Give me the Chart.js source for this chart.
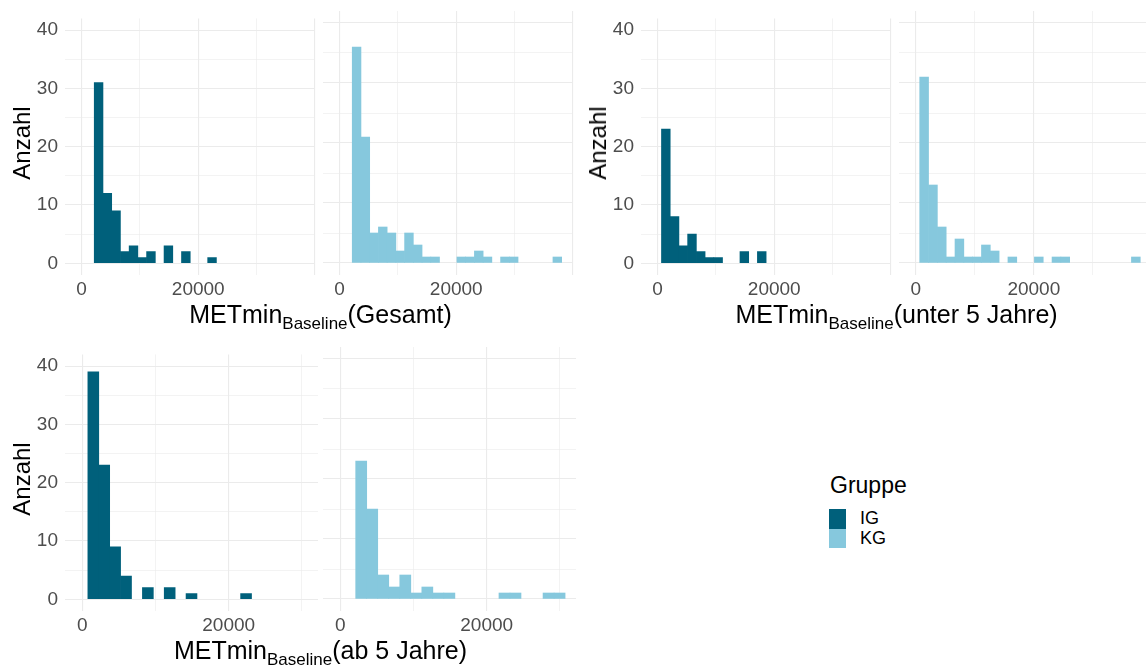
<!DOCTYPE html>
<html>
<head>
<meta charset="utf-8">
<script src="https://cdn.jsdelivr.net/npm/chart.js@4.4.1/dist/chart.umd.min.js"></script>
<style>
  html, body { margin: 0; padding: 0; background: #fff; overflow: hidden; }
  body { position: relative; width: 1146px; height: 668px; font-family: 'Liberation Sans', Arial, sans-serif; }
  canvas { position: absolute; }
  .xtitle { position: absolute; text-align: center; font-size: 25px; line-height: 28px; color: #000; white-space: nowrap; }
  .xtitle span { font-size: 17px; vertical-align: -6px; }
  .ytitle { position: absolute; font-size: 24px; line-height: 24px; color: #000; white-space: nowrap;
            transform: translate(-50%, -50%) rotate(-90deg); }
  .legend { position: absolute; left: 829px; top: 474px; color: #000; }
  .legend .head { font-size: 23px; line-height: 23px; margin-left: 1px; }
  .legend .row { position: relative; height: 19.5px; }
  .legend .key { position: absolute; left: 0; top: 0; width: 17px; height: 19.5px; }
  .legend .lab { position: absolute; left: 31px; top: 0; font-size: 18px; line-height: 19.5px; }
</style>
</head>
<body>
<script>
// Anzahl pro Klasse (Histogramm), je Gruppe und Teilstichprobe
var groups = ['IG', 'KG'];

var binStartGesamt = 2180;
var binWidthGesamt = 1495;
var igGesamt = [31, 12, 9, 2, 3, 1, 2, 0, 3, 0, 2, 0, 0, 1];
var kgGesamt = [36, 21, 5, 6, 5, 2, 5, 3, 1, 1, 0, 0, 1, 1, 2, 1, 0, 1, 1, 0, 0, 0, 0, 1];

var binStartUnter5 = 679;
var binWidthUnter5 = 1494;
var igUnter5 = [23, 8, 3, 5, 2, 1, 1, 0, 0, 2, 0, 2];
var kgUnter5 = [31, 13, 6, 1, 4, 1, 1, 3, 2, 0, 1, 0, 0, 1, 0, 1, 1, 0, 0, 0, 0, 0, 0, 0, 1];

var binStartIgAb5 = 772;
var binWidthIgAb5 = 1490;
var igAb5 = [39, 23, 9, 4, 0, 2, 0, 2, 0, 1, 0, 0, 0, 0, 1];
var binStartKgAb5 = 2115;
var binWidthKgAb5 = 1505;
var kgAb5 = [23, 15, 4, 2, 4, 1, 2, 1, 1, 0, 0, 0, 0, 1, 1, 0, 0, 1, 1];

// Gitterlinien und beschriftete Ticks
var xBreaks = [0, 10000, 20000, 30000, 40000];
var xTickLabels = [0, 20000];
var yBreaks = [0, 5, 10, 15, 20, 25, 30, 35, 40];
var yTickLabels = [0, 10, 20, 30, 40];
var xTitles = ['Gesamt', 'unter 5 Jahre', 'ab 5 Jahre'];

var colors = { IG: '#00607b', KG: '#86c8dd' };
var fontFamily = "'Liberation Sans', Arial, sans-serif";

// Teilflächen: links IG mit y-Achse, rechts KG
var panels = [
  { counts: igGesamt, start: binStartGesamt, width: binWidthGesamt, group: 'IG', left: 0,   top: 0,   w: 318, axisW: 65, xMin: -2830, xMax: 40000 },
  { counts: kgGesamt, start: binStartGesamt, width: binWidthGesamt, group: 'KG', left: 323, top: 0,   w: 253, axisW: 0,  xMin: -2830, xMax: 40000 },
  { counts: igUnter5, start: binStartUnter5, width: binWidthUnter5, group: 'IG', left: 576, top: 0,   w: 318, axisW: 65, xMin: -2830, xMax: 40000 },
  { counts: kgUnter5, start: binStartUnter5, width: binWidthUnter5, group: 'KG', left: 899, top: 0,   w: 247, axisW: 0,  xMin: -2830, xMax: 39000 },
  { counts: igAb5,    start: binStartIgAb5,  width: binWidthIgAb5,  group: 'IG', left: 0,   top: 336, w: 318, axisW: 65, xMin: -2350, xMax: 32200 },
  { counts: kgAb5,    start: binStartKgAb5,  width: binWidthKgAb5,  group: 'KG', left: 323, top: 336, w: 253, axisW: 0,  xMin: -2350, xMax: 32200 }
];

var gridColor = '#ebebeb';

function setTicks(list) {
  return function (scale) {
    scale.ticks = list.filter(function (v) { return v >= scale.min && v <= scale.max; })
                      .map(function (v) { return { value: v }; });
  };
}

function makePanel(p) {
  var cv = document.createElement('canvas');
  cv.width = p.w;
  cv.height = 305;
  cv.style.left = p.left + 'px';
  cv.style.top = p.top + 'px';
  cv.style.width = p.w + 'px';
  cv.style.height = '305px';
  document.body.appendChild(cv);

  var bars = p.counts.map(function (c, i) {
    return { x: p.start + (i + 0.5) * p.width, y: c };
  });

  new Chart(cv.getContext('2d'), {
    type: 'bar',
    data: {
      datasets: [{
        label: p.group,
        data: bars,
        backgroundColor: colors[p.group],
        borderWidth: 0,
        barPercentage: 1,
        categoryPercentage: 1,
        grouped: false,
        // leere Klassen sollen keine Linie hinterlassen
        inflateAmount: function (ctx) { return ctx.raw && ctx.raw.y > 0 ? 0.33 : 0; }
      }]
    },
    options: {
      responsive: false,
      animation: false,
      layout: { padding: { top: 11, left: 0, right: 0, bottom: 0 } },
      plugins: { legend: { display: false }, tooltip: { enabled: false } },
      scales: {
        x: {
          type: 'linear',
          min: p.xMin,
          max: p.xMax,
          offset: false,
          border: { display: false },
          grid: {
            offset: false,
            drawTicks: false,
            color: gridColor,
            lineWidth: function (ctx) { return ctx.tick && ctx.tick.value % 20000 === 0 ? 1.1 : 0.6; }
          },
          ticks: {
            autoSkip: false,
            maxRotation: 0,
            padding: 3,
            color: '#4d4d4d',
            font: { size: 19, family: fontFamily },
            callback: function (v) { return xTickLabels.indexOf(v) >= 0 ? String(v) : ''; }
          },
          afterBuildTicks: setTicks(xBreaks),
          afterFit: function (scale) { scale.height = 30; }
        },
        y: {
          min: -2,
          max: 42,
          border: { display: false },
          grid: {
            drawTicks: false,
            color: gridColor,
            lineWidth: function (ctx) { return ctx.tick && ctx.tick.value % 10 === 0 ? 1.1 : 0.6; }
          },
          ticks: {
            display: p.axisW > 0,
            autoSkip: false,
            padding: 7,
            color: '#4d4d4d',
            font: { size: 19, family: fontFamily },
            callback: function (v) { return yTickLabels.indexOf(v) >= 0 ? String(v) : ''; }
          },
          afterBuildTicks: setTicks(yBreaks),
          afterFit: function (scale) { scale.width = p.axisW; }
        }
      }
    }
  });
}

panels.forEach(makePanel);

// Achsentitel
function addXTitle(text, left, width, top) {
  var d = document.createElement('div');
  d.className = 'xtitle';
  d.style.left = left + 'px';
  d.style.width = width + 'px';
  d.style.top = top + 'px';
  d.innerHTML = 'METmin<span>Baseline</span>(' + text + ')';
  document.body.appendChild(d);
}
function addYTitle(cx, cy) {
  var d = document.createElement('div');
  d.className = 'ytitle';
  d.style.left = cx + 'px';
  d.style.top = cy + 'px';
  d.textContent = 'Anzahl';
  document.body.appendChild(d);
}
addXTitle(xTitles[0], 65, 511, 300);
addXTitle(xTitles[1], 641, 511, 300);
addXTitle(xTitles[2], 65, 511, 636);
addYTitle(21.5, 143);
addYTitle(598, 143);
addYTitle(21.5, 479);

// Legende
var lg = document.createElement('div');
lg.className = 'legend';
var html = '<div class="head">Gruppe</div><div style="height:12px"></div>';
groups.forEach(function (g) {
  html += '<div class="row"><div class="key" style="background:' + colors[g] + '"></div><div class="lab">' + g + '</div></div>';
});
lg.innerHTML = html;
document.body.appendChild(lg);
</script>
</body>
</html>
